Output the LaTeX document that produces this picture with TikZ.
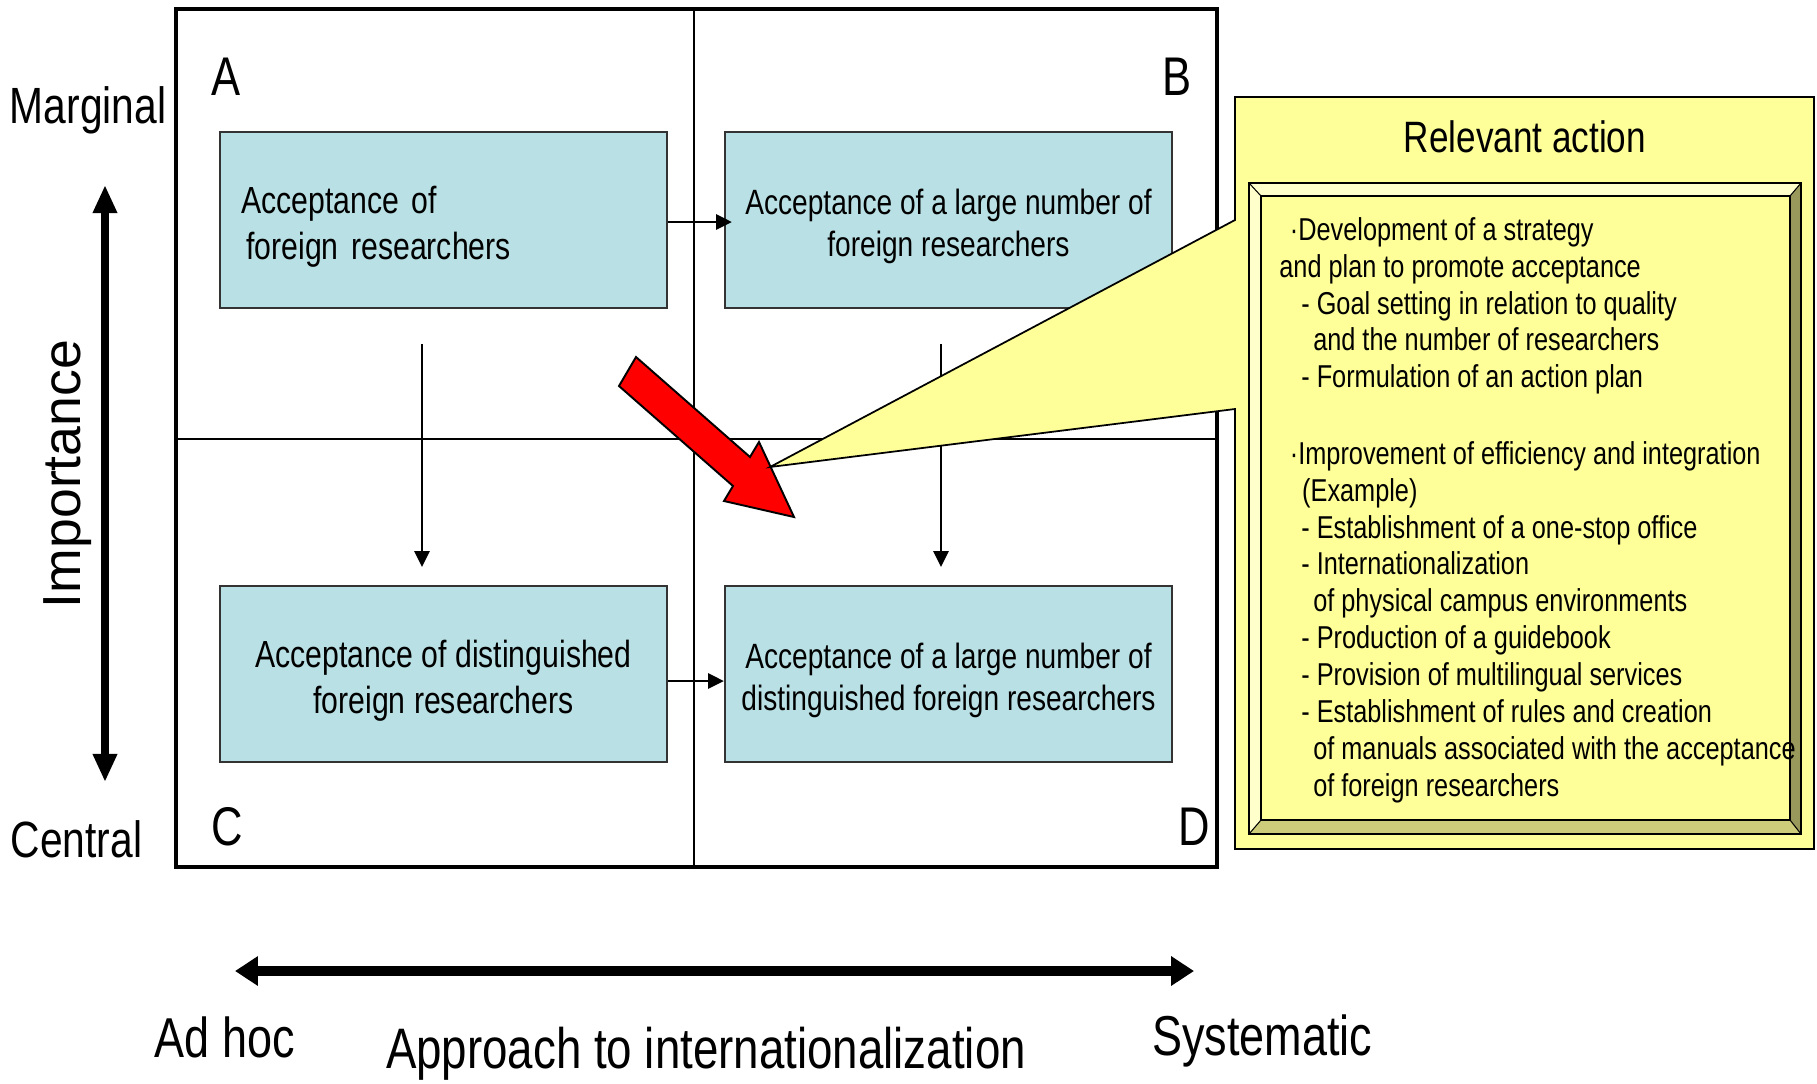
\documentclass[tikz,border=0pt]{standalone}
\usepackage{fontspec}
\setmainfont{Liberation Sans}[FakeStretch=0.8]
\newfontfamily\plainfont{Liberation Sans}
\usetikzlibrary{arrows.meta}
\definecolor{boxblue}{RGB}{185,224,228}
\definecolor{noteyellow}{RGB}{255,255,153}
\definecolor{bevellight}{RGB}{255,255,204}
\definecolor{beveldark}{RGB}{153,153,92}
\definecolor{bevelmid}{RGB}{204,204,122}
\tikzset{
	box/.style = {draw = black!80, line width = 1.3pt, fill = boxblue, minimum width = 8.94cm, minimum height = 3.52cm},
	boxtext/.style = {align = center, inner sep = 0pt, font = \fontsize{20pt}{23.5pt}\selectfont},
	quadlabel/.style = {font = \fontsize{31pt}{36pt}\selectfont, inner sep = 0pt},
	axislabel/.style = {font = \fontsize{32pt}{36pt}\selectfont, inner sep = 0pt},
	smallarrow/.style = {line width = 1.6pt, -{Triangle[length = 9pt, width = 8.5pt]}},
	vbigarrow/.style = {line width = 4.2pt, {Triangle[length = 16pt, width = 13pt]}-{Triangle[length = 16pt, width = 13pt]}},
	hbigarrow/.style = {line width = 5.5pt, {Triangle[length = 13pt, width = 16pt]}-{Triangle[length = 13pt, width = 16pt]}}
}

\begin{document}
\begin{tikzpicture}[x = 0.02cm, y = -0.02cm]
				\useasboundingbox (0,0) rectangle (1817,1083);
				\draw[line width = 2.3pt] (176,9) rectangle (1217,867);
				\draw[line width = 1.5pt] (694,9) -- (694,867);
				\draw[line width = 1.5pt] (176,439) -- (1217,439);
				%
				\node (A)[box] at (443.5,220){};
				\node (B)[box] at (948.5,220){};
				\node (C)[box] at (443.5,674){};
				\node (D)[box] at (948.5,674){};
				\node (tA)[boxtext, align = left, text width = 8.1cm, font = \fontsize{21.5pt}{26pt}\selectfont] at ([yshift = -0.13cm]A.center){Acceptance of\\\hspace*{3pt}foreign researchers};
				\node (tB)[boxtext] at ([yshift = -0.13cm]B.center){Acceptance of a large number of\\foreign researchers};
				\node (tC)[boxtext, font = \fontsize{21.5pt}{26pt}\selectfont] at ([yshift = -0.13cm]C.center){Acceptance of distinguished\\foreign researchers};
				\node (tD)[boxtext] at ([yshift = -0.13cm]D.center){Acceptance of a large number of\\distinguished foreign researchers};
				%
				\node (lA)[quadlabel] at (226,76.5){A};
				\node (lB)[quadlabel] at (1177,76.5){B};
				\node (lC)[quadlabel] at (227,827){C};
				\node (lD)[quadlabel] at (1194,827){D};
				%
				\draw[smallarrow] ([yshift = -0.04cm]A.east) -- ([yshift = -0.04cm, xshift = 0.16cm]B.west);
				\draw[smallarrow] ([yshift = -0.14cm]C.east) -- ([yshift = -0.14cm]D.west);
				\draw[smallarrow, shorten <= 19.8pt, shorten >= 10.2pt] ([xshift = -0.43cm]A.south) -- ([xshift = -0.43cm]C.north);
				\draw[smallarrow, shorten <= 19.8pt, shorten >= 10.2pt] ([xshift = -0.15cm]B.south) -- ([xshift = -0.15cm]D.north);
				%
				\draw[line width = 1.1pt, fill = red] (636,357) -- (750,457) -- (759,442) -- (794,517) -- (724,501) -- (733,486) -- (619,386) -- cycle;
				%
				\draw[line width = 1pt, fill = noteyellow] (1235,97) -- (1814,97) -- (1814,849) -- (1235,849) -- (1235,409) -- (770,467) -- (1235,220) -- cycle;
				\fill[bevellight] (1249,183) -- (1801,183) -- (1790,196) -- (1261,196) -- cycle;
				\fill[bevellight] (1249,183) -- (1261,196) -- (1261,820) -- (1249,834) -- cycle;
				\fill[beveldark] (1801,183) -- (1801,834) -- (1790,820) -- (1790,196) -- cycle;
				\fill[bevelmid] (1249,834) -- (1801,834) -- (1790,820) -- (1261,820) -- cycle;
				\draw[line width = 1.1pt] (1249,183) rectangle (1801,834);
				\draw[line width = 1.1pt] (1261,196) rectangle (1790,820);
				\draw[line width = 0.6pt] (1249,183) -- (1261,196) (1801,183) -- (1790,196) (1801,834) -- (1790,820) (1249,834) -- (1261,820);
				%
				\node (title)[font = \fontsize{25pt}{30pt}\selectfont] at (1525,137){Relevant action};
				\node (acts)[anchor = north west, align = left, inner sep = 0pt, font = \fontsize{18pt}{21pt}\selectfont] at (1279,217){%
					\hspace*{6pt}·Development of a strategy\\
					and plan to promote acceptance\\
					\hspace*{12.5pt}- Goal setting in relation to quality\\
					\hspace*{19.3pt}and the number of researchers\\
					\hspace*{12.5pt}- Formulation of an action plan\\[22.5pt]
					\hspace*{6pt}·Improvement of efficiency and integration\\
					\hspace*{13pt}(Example)\\
					\hspace*{12.5pt}- Establishment of a one-stop office\\
					\hspace*{12.5pt}- Internationalization\\
					\hspace*{19.3pt}of physical campus environments\\
					\hspace*{12.5pt}- Production of a guidebook\\
					\hspace*{12.5pt}- Provision of multilingual services\\
					\hspace*{12.5pt}- Establishment of rules and creation\\
					\hspace*{19.3pt}of manuals associated with the acceptance\\
					\hspace*{19.3pt}of foreign researchers};
				%
				\node (marg)[font = \fontsize{29pt}{34pt}\selectfont, inner sep = 0pt] at (88,110){Marginal};
				\node (cent)[font = \fontsize{29pt}{34pt}\selectfont, inner sep = 0pt] at (76.5,839){Central};
				\node (imp)[rotate = 90, font = \plainfont\fontsize{30.5pt}{36pt}\selectfont, inner sep = 0pt] at (68,474){Importance};
				\coordinate (imptop) at (105,185);
				\coordinate (impbot) at (105,782);
				\draw[vbigarrow] (imptop) -- (impbot);
				%
				\coordinate (appleft) at (235,971);
				\coordinate (appright) at (1194,971);
				\draw[hbigarrow] (appleft) -- (appright);
				\node (adhoc)[axislabel] at (225,1037){Ad hoc};
				\node (appr)[axislabel, font = \fontsize{32.5pt}{36pt}\selectfont] at (706,1054){Approach to internationalization};
				\node (syst)[axislabel] at (1262,1041){Systematic};
			\end{tikzpicture}
\end{document}
